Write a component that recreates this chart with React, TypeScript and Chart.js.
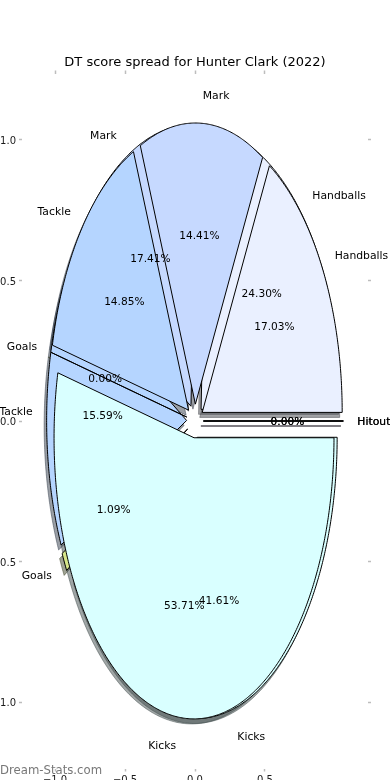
import React, { useEffect, useRef } from 'react';
import { Chart, registerables } from 'chart.js';

Chart.register(...registerables);

// ---------- data ----------
const chartTitle = 'DT score spread for Hunter Clark (2022)';
const watermark = 'Dream-Stats.com';
const categories = ['Hitout', 'Handballs', 'Mark', 'Tackle', 'Goals', 'Kicks'];
// first pie (drawn underneath)
const seriesA = [0.0, 24.3, 17.41, 15.59, 1.09, 41.61];
// second pie (drawn on top)
const seriesB = [0.0, 17.03, 14.41, 14.85, 0.0, 53.71];
const sliceColors = ['#f0e6ff', '#eaf0ff', '#c6d9ff', '#b5d5ff', '#d6e68a', '#d9ffff'];
const xTickValues = [-1.0, -0.5, 0.0, 0.5];
const yTickValues = [-1.0, -0.5, 0.0, 0.5, 1.0];

// ---------- style constants ----------
const AXIS_LIMIT = 1.236;
const EXPLODE = 0.06;
const LABEL_DIST = 1.1;
const PCT_DIST = 0.6;
const SHADOW_OFFSET = -0.0178;
const FONT = "'DejaVu Sans', 'Liberation Sans', sans-serif";
const LABEL_SIZE = 10.8;
const PCT_SIZE = 10.6;
const TEXT_NUDGE = 1;

const hexToRgb = (h: string) => {
  const n = parseInt(h.slice(1), 16);
  return [(n >> 16) & 255, (n >> 8) & 255, n & 255];
};

const fmtTick = (v: number) => (v < 0 ? '\u2212' + Math.abs(v).toFixed(1) : Number(v).toFixed(1));

const makeAxis = (position: string, values: number[], showLabels: boolean, size: number) => {
  const horizontal = position === 'top' || position === 'bottom';
  return {
    type: 'linear',
    axis: horizontal ? 'x' : 'y',
    position,
    min: -AXIS_LIMIT,
    max: AXIS_LIMIT,
    afterBuildTicks: (s: any) => {
      s.ticks = values.map((v) => ({ value: v }));
    },
    afterFit: (s: any) => {
      if (horizontal) s.height = size;
      else s.width = size;
      s.paddingLeft = 0;
      s.paddingRight = 0;
      s.paddingTop = 0;
      s.paddingBottom = 0;
    },
    ticks: {
      display: showLabels,
      padding: 3,
      color: '#1a1a1a',
      autoSkip: false,
      maxRotation: 0,
      minRotation: 0,
      labelOffset: horizontal ? 0 : 1.5,
      font: { size: 10, family: FONT },
      callback: (v: number) => fmtTick(v),
    },
    grid: {
      display: true,
      drawOnChartArea: false,
      drawTicks: true,
      tickLength: 3,
      tickWidth: 1.5,
      tickColor: '#bdbdbd',
      color: '#bdbdbd',
    },
    border: { display: false },
  };
};

const piePlugin = {
  id: 'overlaidPies',
  afterDatasetsDraw(chart: any) {
    const ctx = chart.ctx as CanvasRenderingContext2D;
    const sx = chart.scales.x;
    const sy = chart.scales.y;
    const px = (x: number) => sx.getPixelForValue(x);
    const py = (y: number) => sy.getPixelForValue(y);

    const pies = chart.data.datasets.map((ds: any) => {
      const vals: number[] = ds.values;
      const total = vals.reduce((a, b) => a + b, 0);
      let acc = 0;
      return vals.map((v, i) => {
        const t1 = (acc / total) * 360;
        acc += v;
        const t2 = (acc / total) * 360;
        const mid = (((t1 + t2) / 2) * Math.PI) / 180;
        return {
          i,
          pct: (v / total) * 100,
          t1,
          t2,
          mid,
          cx: EXPLODE * Math.cos(mid),
          cy: EXPLODE * Math.sin(mid),
        };
      });
    });

    const trace = (w: any, ox: number, oy: number) => {
      ctx.beginPath();
      ctx.moveTo(px(w.cx + ox), py(w.cy + oy));
      const n = Math.max(1, Math.ceil((w.t2 - w.t1) / 0.5));
      for (let k = 0; k <= n; k++) {
        const a = ((w.t1 + ((w.t2 - w.t1) * k) / n) * Math.PI) / 180;
        ctx.lineTo(px(w.cx + ox + Math.cos(a)), py(w.cy + oy + Math.sin(a)));
      }
      ctx.closePath();
    };

    ctx.save();
    ctx.lineJoin = 'miter';
    // shadows (all below all wedges)
    pies.forEach((ws: any[]) =>
      ws.forEach((w) => {
        const [r, g, b] = hexToRgb(sliceColors[w.i]).map((c) => Math.round(c * 0.3));
        const col = `rgba(${r},${g},${b},0.5)`;
        ctx.fillStyle = col;
        ctx.strokeStyle = col;
        ctx.lineWidth = 1;
        trace(w, SHADOW_OFFSET, SHADOW_OFFSET);
        ctx.fill();
        ctx.stroke();
      })
    );
    // wedges
    pies.forEach((ws: any[]) =>
      ws.forEach((w) => {
        ctx.fillStyle = sliceColors[w.i];
        ctx.strokeStyle = '#000';
        ctx.lineWidth = 1;
        trace(w, 0, 0);
        ctx.fill();
        ctx.stroke();
      })
    );
    // texts
    ctx.fillStyle = '#000';
    pies.forEach((ws: any[]) =>
      ws.forEach((w) => {
        const lx = w.cx + LABEL_DIST * Math.cos(w.mid);
        const ly = w.cy + LABEL_DIST * Math.sin(w.mid);
        ctx.font = `${LABEL_SIZE}px ${FONT}`;
        ctx.textAlign = lx > 0 ? 'left' : 'right';
        ctx.textBaseline = 'alphabetic';
        ctx.fillText(categories[w.i], px(lx), py(ly) + 0.265 * LABEL_SIZE + TEXT_NUDGE);
        const tx = w.cx + PCT_DIST * Math.cos(w.mid);
        const ty = w.cy + PCT_DIST * Math.sin(w.mid);
        ctx.font = `${PCT_SIZE}px ${FONT}`;
        ctx.textAlign = 'center';
        ctx.fillText(w.pct.toFixed(2) + '%', px(tx), py(ty) + 0.265 * PCT_SIZE + TEXT_NUDGE);
      })
    );
    // title
    const area = chart.chartArea;
    ctx.font = `13px ${FONT}`;
    ctx.textAlign = 'center';
    ctx.fillStyle = '#000';
    ctx.fillText(chartTitle, (area.left + area.right) / 2, area.top - 7.5);
    // watermark
    ctx.font = `11.7px ${FONT}`;
    ctx.textAlign = 'left';
    ctx.fillStyle = 'rgba(95,95,95,0.85)';
    ctx.fillText(watermark, 0, 774);
    ctx.restore();
  },
};

export default function App() {
  const ref = useRef<HTMLCanvasElement>(null);
  useEffect(() => {
    if (!ref.current) return;
    Chart.defaults.font.family = FONT;
    const chart = new Chart(ref.current, {
      type: 'scatter',
      data: {
        datasets: [
          { label: 'A', data: [], values: seriesA } as any,
          { label: 'B', data: [], values: seriesB } as any,
        ],
      },
      options: {
        responsive: false,
        animation: false,
        devicePixelRatio: 1,
        layout: { padding: { top: 63.5, bottom: 0, left: 0, right: 0 } },
        plugins: {
          legend: { display: false },
          tooltip: { enabled: false },
          title: { display: false },
        },
        scales: {
          x: makeAxis('bottom', xTickValues, true, 11.5),
          x2: makeAxis('top', xTickValues, false, 10),
          y: makeAxis('left', yTickValues, true, 22),
          y2: makeAxis('right', yTickValues, false, 22),
        } as any,
      },
      plugins: [piePlugin],
    } as any);
    return () => chart.destroy();
  }, []);
  return (
    <div
      style={{
        position: 'fixed',
        left: 0,
        top: 0,
        width: 390,
        height: 780,
        background: '#fff',
        overflow: 'hidden',
      }}
    >
      <canvas ref={ref} width={390} height={780} style={{ width: 390, height: 780, display: 'block' }} />
    </div>
  );
}
